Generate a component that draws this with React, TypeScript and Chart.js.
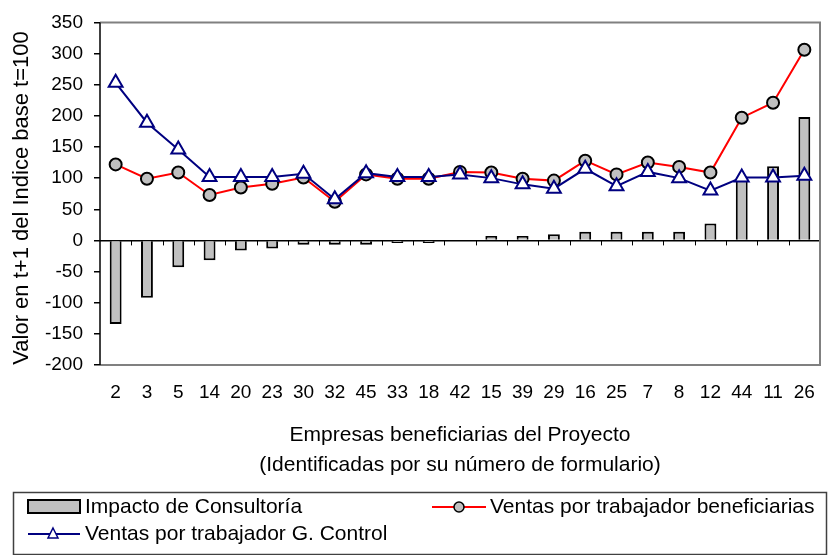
import React, { useEffect, useRef } from "react";
import { Chart, registerables } from "chart.js";

Chart.register(...registerables);

const categories = ["2", "3", "5", "14", "20", "23", "30", "32", "45", "33", "18", "42", "15", "39", "29", "16", "25", "7", "8", "12", "44", "11", "26"];
const impactoConsultoria = [-134, -92, -43, -32, -16, -13, -7, -7, -7, -4, -4, 0, 7, 7, 10, 14, 14, 14, 14, 27, 100, 119, 198];
const ventasBeneficiarias = [122, 99, 109, 73, 85, 91, 101, 62, 106, 99, 99, 110, 109, 99, 96, 128, 106, 125, 118, 109, 197, 221, 306];
const ventasControl = [253, 189, 146, 102, 102, 102, 107, 66, 108, 102, 102, 106, 100, 90, 83, 115, 87, 110, 100, 80, 101, 101, 104];

const yTitle = "Valor en t+1 del Indice base t=100";
const xTitle1 = "Empresas beneficiarias del Proyecto";
const xTitle2 = "(Identificadas por su número de formulario)";
const legendLabels = ["Impacto de Consultoría", "Ventas por trabajador beneficiarias", "Ventas por trabajador G. Control"];

const FONT = "'Liberation Sans', Arial, sans-serif";

const decor = {
  id: "decor",
  beforeDatasetsDraw(chart: any) {
    const { ctx, chartArea: a, scales } = chart;
    const y0 = scales.y.getPixelForValue(0);
    ctx.save();
    ctx.strokeStyle = "#000";
    ctx.lineWidth = 1;
    const n = categories.length;
    const w = (a.right - a.left) / n;
    for (let i = 1; i < n; i++) {
      const x = Math.round(a.left + i * w) + 0.5;
      ctx.beginPath();
      ctx.moveTo(x, y0);
      ctx.lineTo(x, y0 + 5);
      ctx.stroke();
    }
    ctx.restore();
  },
  afterDraw(chart: any) {
    const { ctx, chartArea: a } = chart;
    ctx.save();
    ctx.strokeStyle = "#808080";
    ctx.lineWidth = 2;
    ctx.beginPath();
    ctx.moveTo(a.left, a.top);
    ctx.lineTo(a.right, a.top);
    ctx.lineTo(a.right, a.bottom);
    ctx.lineTo(a.left, a.bottom);
    ctx.stroke();
    ctx.strokeStyle = "#000";
    ctx.lineWidth = 1.5;
    ctx.beginPath();
    ctx.moveTo(a.left, a.top);
    ctx.lineTo(a.left, a.bottom);
    ctx.stroke();

    ctx.fillStyle = "#000";
    ctx.font = `22px ${FONT}`;
    ctx.save();
    ctx.translate(22, 198);
    ctx.rotate(-Math.PI / 2);
    ctx.textAlign = "center";
    ctx.textBaseline = "middle";
    ctx.fillText(yTitle, 0, 0);
    ctx.restore();

    ctx.font = `21px ${FONT}`;
    ctx.textAlign = "center";
    ctx.textBaseline = "middle";
    const cx = (a.left + a.right) / 2;
    ctx.fillText(xTitle1, cx, 435);
    ctx.fillText(xTitle2, cx, 465);

    ctx.strokeStyle = "#404040";
    ctx.lineWidth = 1.5;
    ctx.strokeRect(13.5, 492.5, 813, 62);
    ctx.textAlign = "left";
    ctx.font = `21px ${FONT}`;
    // item 1
    ctx.fillStyle = "#c0c0c0";
    ctx.fillRect(28, 500, 52, 13);
    ctx.strokeStyle = "#000";
    ctx.lineWidth = 2;
    ctx.strokeRect(28, 500, 52, 13);
    ctx.fillStyle = "#000";
    ctx.fillText(legendLabels[0], 85, 507);
    // item 2
    ctx.strokeStyle = "#ff0000";
    ctx.lineWidth = 2;
    ctx.beginPath();
    ctx.moveTo(432, 507);
    ctx.lineTo(486, 507);
    ctx.stroke();
    ctx.beginPath();
    ctx.arc(459, 507, 5, 0, Math.PI * 2);
    ctx.fillStyle = "#c0c0c0";
    ctx.fill();
    ctx.strokeStyle = "#000";
    ctx.lineWidth = 1.5;
    ctx.stroke();
    ctx.fillStyle = "#000";
    ctx.fillText(legendLabels[1], 490, 507);
    // item 3
    ctx.strokeStyle = "#000080";
    ctx.lineWidth = 2;
    ctx.beginPath();
    ctx.moveTo(28, 534);
    ctx.lineTo(80, 534);
    ctx.stroke();
    ctx.beginPath();
    ctx.moveTo(53, 528);
    ctx.lineTo(58, 538);
    ctx.lineTo(48, 538);
    ctx.closePath();
    ctx.fillStyle = "#fff";
    ctx.fill();
    ctx.lineWidth = 1.5;
    ctx.stroke();
    ctx.fillStyle = "#000";
    ctx.fillText(legendLabels[2], 85, 534);
    ctx.restore();
  },
};

export default function App() {
  const ref = useRef<HTMLCanvasElement | null>(null);
  useEffect(() => {
    if (!ref.current) return;
    Chart.defaults.font.family = FONT;
    const chart = new Chart(ref.current, {
      type: "bar",
      data: {
        labels: categories,
        datasets: [
          {
            type: "line",
            label: legendLabels[2],
            data: ventasControl,
            borderColor: "#000080",
            borderWidth: 2,
            pointStyle: "triangle",
            pointRadius: 8,
            pointBackgroundColor: "#ffffff",
            pointBorderColor: "#000080",
            pointBorderWidth: 2,
            tension: 0,
            order: 1,
          } as any,
          {
            type: "line",
            label: legendLabels[1],
            data: ventasBeneficiarias,
            borderColor: "#ff0000",
            borderWidth: 2,
            pointStyle: "circle",
            pointRadius: 6,
            pointBackgroundColor: "#c0c0c0",
            pointBorderColor: "#000000",
            pointBorderWidth: 2,
            tension: 0,
            order: 2,
          } as any,
          {
            type: "bar",
            label: legendLabels[0],
            data: impactoConsultoria,
            backgroundColor: "#c0c0c0",
            borderColor: "#000000",
            borderWidth: 2,
            categoryPercentage: 1,
            barPercentage: 0.38,
            order: 3,
          } as any,
        ],
      },
      options: {
        animation: false,
        responsive: false,
        events: [],
        layout: { padding: { left: 0, top: 20, right: 1, bottom: 0 } },
        plugins: { legend: { display: false }, tooltip: { enabled: false } },
        scales: {
          x: {
            grid: { display: false },
            border: { display: false },
            ticks: { color: "#000", font: { size: 19 }, padding: 8, maxRotation: 0, autoSkip: false },
            afterFit: (s: any) => {
              s.height = 190;
            },
          },
          y: {
            min: -200,
            max: 350,
            ticks: { stepSize: 50, color: "#000", font: { size: 19 }, padding: 11 },
            grid: {
              color: (c: any) => (c.tick && c.tick.value === 0 ? "#000" : "transparent"),
              tickColor: "#000",
              tickLength: 6,
              lineWidth: 1.5,
            },
            border: { display: false },
            afterFit: (s: any) => {
              s.width = 100;
            },
          },
        },
      },
      plugins: [decor],
    });
    return () => chart.destroy();
  }, []);
  return (
    <div style={{ position: "absolute", left: 0, top: 0, width: 830, height: 555, background: "#fff" }}>
      <canvas ref={ref} width={830} height={555} />
    </div>
  );
}
